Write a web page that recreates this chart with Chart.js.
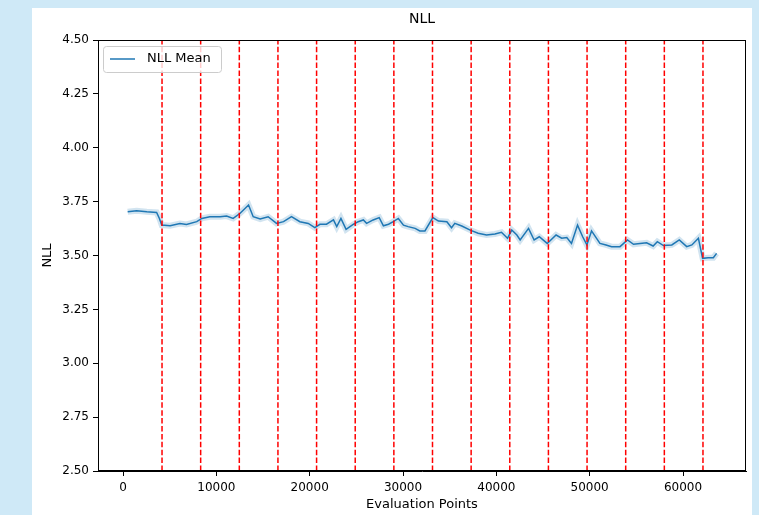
<!DOCTYPE html>
<html lang="en">
  <head>
    <meta charset="UTF-8" />
    <script src="https://cdn.jsdelivr.net/npm/chart.js@4/dist/chart.umd.min.js"></script>
    <title>NLL</title>
    <style>
      html, body { margin: 0; padding: 0; overflow: hidden; }
      body { width: 759px; height: 515px; background: #cfe9f7; position: relative; }
      #panel { position: absolute; left: 32px; top: 8px; width: 720px; height: 507px; background: #fff; }
      #chart { position: absolute; left: 0; top: 0; }
    </style>
  </head>
  <body>
    <div id="panel"><canvas id="chart" width="720" height="507"></canvas></div>
    <script>
      // values
      const evalPoints = [500, 1450, 2550, 3600, 3900, 4150, 5050, 6100, 6800, 7900, 8450, 9300, 10400,
        11100, 11800, 12550, 13450, 13950, 14700, 15550, 16450, 17200, 18050, 18950, 19850, 20550, 21100,
        21800, 22550, 22900, 23350, 23900, 24700, 25200, 25750, 26100, 26800, 27450, 27900, 28450, 28950,
        29500, 30050, 30550, 31300, 31800, 32350, 33200, 33800, 34700, 35200, 35550, 36300, 37200, 38050,
        38950, 39850, 40550, 41200, 41650, 42200, 42550, 43450, 44050, 44600, 45450, 46400, 47000, 47550,
        48050, 48700, 49250, 49700, 50200, 51100, 51750, 52350, 53250, 54050, 54700, 55400, 56100, 56800,
        57250, 57900, 58800, 59600, 60400, 60950, 61650, 62100, 62700, 63250, 63600];
      const nllMean = [3.703, 3.708, 3.703, 3.700, 3.672, 3.641, 3.638, 3.648, 3.644, 3.657, 3.672, 3.680, 3.680,
        3.683, 3.672, 3.696, 3.734, 3.680, 3.669, 3.680, 3.649, 3.657, 3.680, 3.657, 3.649, 3.629, 3.645,
        3.645, 3.665, 3.634, 3.672, 3.621, 3.645, 3.657, 3.665, 3.649, 3.665, 3.676, 3.638, 3.645, 3.657,
        3.672, 3.641, 3.634, 3.626, 3.614, 3.614, 3.676, 3.660, 3.657, 3.629, 3.649, 3.637, 3.618, 3.603,
        3.595, 3.600, 3.608, 3.580, 3.618, 3.595, 3.572, 3.626, 3.572, 3.587, 3.556, 3.595, 3.580, 3.583,
        3.556, 3.641, 3.587, 3.549, 3.614, 3.556, 3.549, 3.541, 3.541, 3.572, 3.552, 3.556, 3.559, 3.544,
        3.564, 3.546, 3.549, 3.572, 3.541, 3.549, 3.580, 3.487, 3.490, 3.490, 3.510];
      const boundaries = [4180, 8320, 12460, 16600, 20740, 24880, 29020, 33160, 37300, 41440, 45580,
        49720, 53860, 58000, 62140];
      const xTicks = [0, 10000, 20000, 30000, 40000, 50000, 60000];
      const yTicks = [2.5, 2.75, 3.0, 3.25, 3.5, 3.75, 4.0, 4.25, 4.5];

      const blue = "#1f77b4";
      const tickFont = { family: "DejaVu Sans", size: 12 };
      const labelFont = { family: "DejaVu Sans", size: 13 };

      const meanPts = evalPoints.map((x, i) => ({ x: x, y: nllMean[i] }));

      const datasets = boundaries.map((b) => ({
        label: "boundary",
        data: [{ x: b, y: 2.5 }, { x: b, y: 4.5 }],
        borderColor: "#ff0000",
        borderWidth: 1.5,
        borderDash: [5.5, 2.4],
        pointRadius: 0,
        order: 0,
      }));
      datasets.push({
        label: "NLL Mean",
        data: meanPts,
        borderColor: blue,
        borderWidth: 1.5,
        pointRadius: 0,
        order: 1,
      });
      datasets.push({
        label: "band",
        data: meanPts,
        borderColor: "rgba(31,119,180,0.2)",
        borderWidth: 6,
        pointRadius: 0,
        order: 2,
      });

      const extras = {
        id: "extras",
        afterDraw(chart) {
          const c = chart.ctx;
          const a = chart.chartArea;
          c.save();
          // frame
          c.strokeStyle = "#000";
          c.lineWidth = 1;
          c.strokeRect(a.left + 0.5, a.top + 0.5, a.right - a.left - 1, a.bottom - a.top - 1);
          // title
          c.fillStyle = "#000";
          c.font = "14px 'DejaVu Sans'";
          c.textAlign = "center";
          c.textBaseline = "middle";
          c.fillText("NLL", (a.left + a.right) / 2, 11);
          // legend
          const lx = a.left + 5, ly = a.top + 6, lw = 118, lh = 26;
          c.fillStyle = "rgba(255,255,255,0.8)";
          c.strokeStyle = "#cccccc";
          c.beginPath();
          c.roundRect(lx + 0.5, ly + 0.5, lw, lh, 3);
          c.fill();
          c.stroke();
          c.strokeStyle = blue;
          c.lineWidth = 1.5;
          c.beginPath();
          c.moveTo(lx + 7, ly + 13);
          c.lineTo(lx + 32, ly + 13);
          c.stroke();
          c.fillStyle = "#000";
          c.font = "13px 'DejaVu Sans'";
          c.textAlign = "left";
          c.fillText("NLL Mean", lx + 44, ly + 13);
          c.restore();
        },
      };

      new Chart(document.getElementById("chart"), {
        type: "line",
        data: { datasets: datasets },
        plugins: [extras],
        options: {
          responsive: false,
          animation: false,
          layout: { padding: { top: 32, right: 6, left: 0, bottom: 0 } },
          plugins: { legend: { display: false }, tooltip: { enabled: false } },
          scales: {
            x: {
              type: "linear",
              min: -2680,
              max: 66750,
              afterFit(s) { s.height = 44; },
              afterBuildTicks(s) { s.ticks = xTicks.map((v) => ({ value: v })); },
              grid: { drawOnChartArea: false, drawTicks: true, tickLength: 5, tickColor: "#000" },
              border: { display: true, color: "#000" },
              ticks: { color: "#000", font: tickFont, padding: 5, maxRotation: 0, callback: (v) => String(v) },
              title: { display: true, text: "Evaluation Points", color: "#000", font: labelFont, padding: { top: 0, bottom: 3 } },
            },
            y: {
              min: 2.5,
              max: 4.5,
              afterFit(s) { s.width = 66; },
              afterBuildTicks(s) { s.ticks = yTicks.map((v) => ({ value: v })); },
              grid: { drawOnChartArea: false, drawTicks: true, tickLength: 5, tickColor: "#000" },
              border: { display: true, color: "#000" },
              ticks: { color: "#000", font: tickFont, padding: 4, callback: (v) => v.toFixed(2) },
              title: { display: true, text: "NLL", color: "#000", font: labelFont, padding: { top: 8, bottom: 0 } },
            },
          },
        },
      });
    </script>
  </body>
</html>
